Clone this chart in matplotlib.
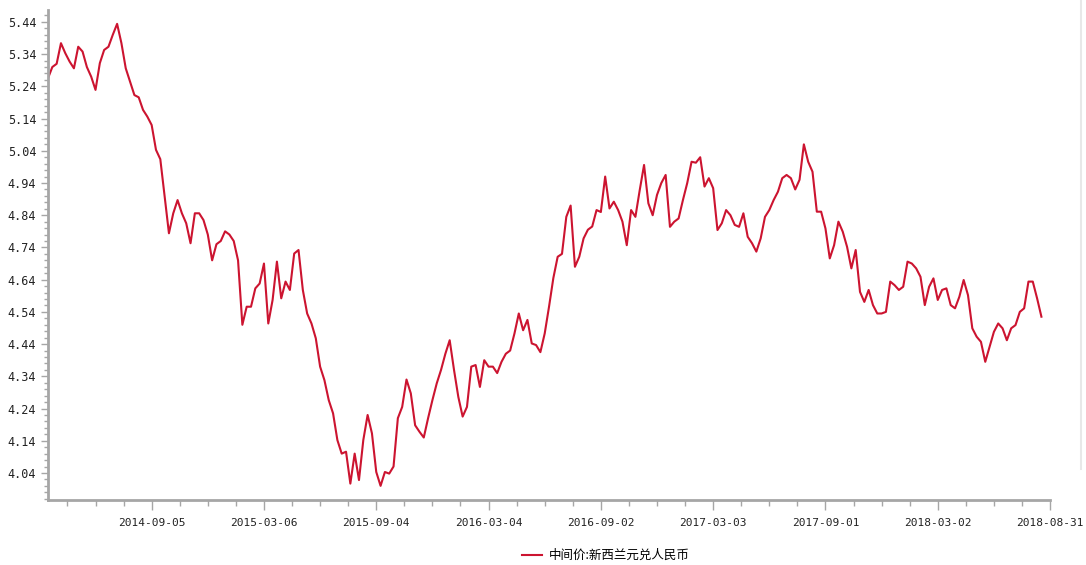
import numpy as np
import pandas as pd
import matplotlib
matplotlib.use("Agg")
import matplotlib.pyplot as plt
import matplotlib.dates as mdates
from matplotlib.ticker import FixedLocator, MultipleLocator

# weekly readings of the NZD/CNY central parity, starting 2014-03-21
values = [
    5.265, 5.30, 5.31, 5.374, 5.343, 5.317, 5.296, 5.363, 5.348, 5.30,
    5.27, 5.229, 5.312, 5.353, 5.363, 5.40, 5.434, 5.374, 5.296, 5.255,
    5.213, 5.206, 5.167, 5.146, 5.12, 5.043, 5.014, 4.90, 4.784, 4.846,
    4.887, 4.846, 4.815, 4.753, 4.846, 4.846, 4.825, 4.78, 4.70, 4.75,
    4.76, 4.79, 4.78, 4.76, 4.70, 4.50, 4.556, 4.556, 4.613, 4.628,
    4.69, 4.504, 4.577, 4.696, 4.582, 4.634, 4.608, 4.721, 4.732, 4.608,
    4.535, 4.504, 4.458, 4.37, 4.328, 4.266, 4.225, 4.142, 4.10, 4.106,
    4.007, 4.10, 4.018, 4.142, 4.22, 4.163, 4.043, 4.0, 4.043, 4.038,
    4.06, 4.21, 4.245, 4.33, 4.287, 4.188, 4.168, 4.15, 4.21, 4.266,
    4.318, 4.36, 4.41, 4.452, 4.36, 4.276, 4.215, 4.245, 4.37, 4.375,
    4.307, 4.39, 4.37, 4.37, 4.35, 4.385, 4.41, 4.42, 4.473, 4.535,
    4.483, 4.515, 4.442, 4.437, 4.415, 4.473, 4.556, 4.645, 4.711, 4.72,
    4.835, 4.87, 4.68, 4.711, 4.768, 4.795, 4.805, 4.856, 4.85, 4.96,
    4.861, 4.882, 4.856, 4.82, 4.747, 4.856, 4.835, 4.918, 4.996, 4.877,
    4.84, 4.903, 4.94, 4.965, 4.804, 4.82, 4.83, 4.887, 4.94, 5.006,
    5.003, 5.02, 4.929, 4.955, 4.924, 4.794, 4.815, 4.856, 4.84, 4.81,
    4.804, 4.846, 4.773, 4.753, 4.727, 4.768, 4.835, 4.856, 4.887, 4.913,
    4.955, 4.965, 4.955, 4.92, 4.95, 5.06, 5.006, 4.975, 4.851, 4.851,
    4.799, 4.706, 4.747, 4.82, 4.789, 4.742, 4.675, 4.732, 4.602, 4.571,
    4.608, 4.561, 4.535, 4.535, 4.54, 4.634, 4.623, 4.608, 4.618, 4.696,
    4.69, 4.675, 4.649, 4.561, 4.618, 4.644, 4.577, 4.608, 4.613, 4.561,
    4.551, 4.587, 4.639, 4.592, 4.489, 4.463, 4.447, 4.385, 4.432, 4.478,
    4.504, 4.489, 4.452, 4.489, 4.499, 4.54, 4.551, 4.634, 4.634, 4.582,
    4.525,
]
dates = pd.date_range("2014-03-21", periods=len(values), freq="7D")

tick_labels = ["2014-09-05", "2015-03-06", "2015-09-04", "2016-03-04",
               "2016-09-02", "2017-03-03", "2017-09-01", "2018-03-02",
               "2018-08-31"]
y_ticks = [4.04, 4.14, 4.24, 4.34, 4.44, 4.54, 4.64, 4.74, 4.84, 4.94,
           5.04, 5.14, 5.24, 5.34, 5.44]
series_name = "中间价:新西兰元兑人民币"

line_color = "#cc1430"
axis_color = "#a6a6a6"

fig = plt.figure(figsize=(10.86, 5.65), dpi=100)
ax = fig.add_axes([0.0442, 0.115, 0.9227, 0.8673])

ax.plot(dates, values, color=line_color, lw=1.5, label=series_name)

major = mdates.date2num(pd.to_datetime(tick_labels))
step = (major[1] - major[0]) / 4
minor = np.arange(major[0] - 3 * step, major[-1] + 0.1, step)

ax.set_xlim(mdates.date2num(pd.Timestamp("2014-03-21")), major[-1])
ax.set_ylim(3.956, 5.477)

ax.xaxis.set_major_locator(FixedLocator(major))
ax.xaxis.set_minor_locator(FixedLocator(minor))
ax.set_xticklabels(tick_labels)
ax.set_yticks(y_ticks)
ax.set_yticklabels([f"{t:.2f}" for t in y_ticks])
ax.yaxis.set_minor_locator(MultipleLocator(0.02))

for s in ["top", "right"]:
    ax.spines[s].set_visible(False)
for s in ["left", "bottom"]:
    ax.spines[s].set_color(axis_color)
    ax.spines[s].set_linewidth(2)

ax.tick_params(axis="both", which="both", color=axis_color, width=1)
ax.tick_params(axis="x", which="major", length=7, pad=6)
ax.tick_params(axis="x", which="minor", length=4)
ax.tick_params(axis="y", which="major", length=5)
ax.tick_params(axis="y", which="minor", length=3)
for lab in ax.get_xticklabels():
    lab.set_fontfamily("DejaVu Sans Mono")
    lab.set_fontsize(8)
    lab.set_color("#222222")
for lab in ax.get_yticklabels():
    lab.set_fontfamily("DejaVu Sans Mono")
    lab.set_fontsize(8.5)
    lab.set_color("#222222")
    lab.set_horizontalalignment("left")
ax.yaxis.set_tick_params(pad=24)

fig.legend(loc="center", bbox_to_anchor=(0.558, 0.017), frameon=False,
           handlelength=1.6, handletextpad=0.5,
           prop={"family": ["Noto Sans CJK SC", "DejaVu Sans"], "size": 9})

fig.add_artist(plt.Line2D([0.9955, 0.9955], [0.17, 1.0], color="#e8e8e8", lw=1.5))

fig.savefig("out.png", dpi=100)
